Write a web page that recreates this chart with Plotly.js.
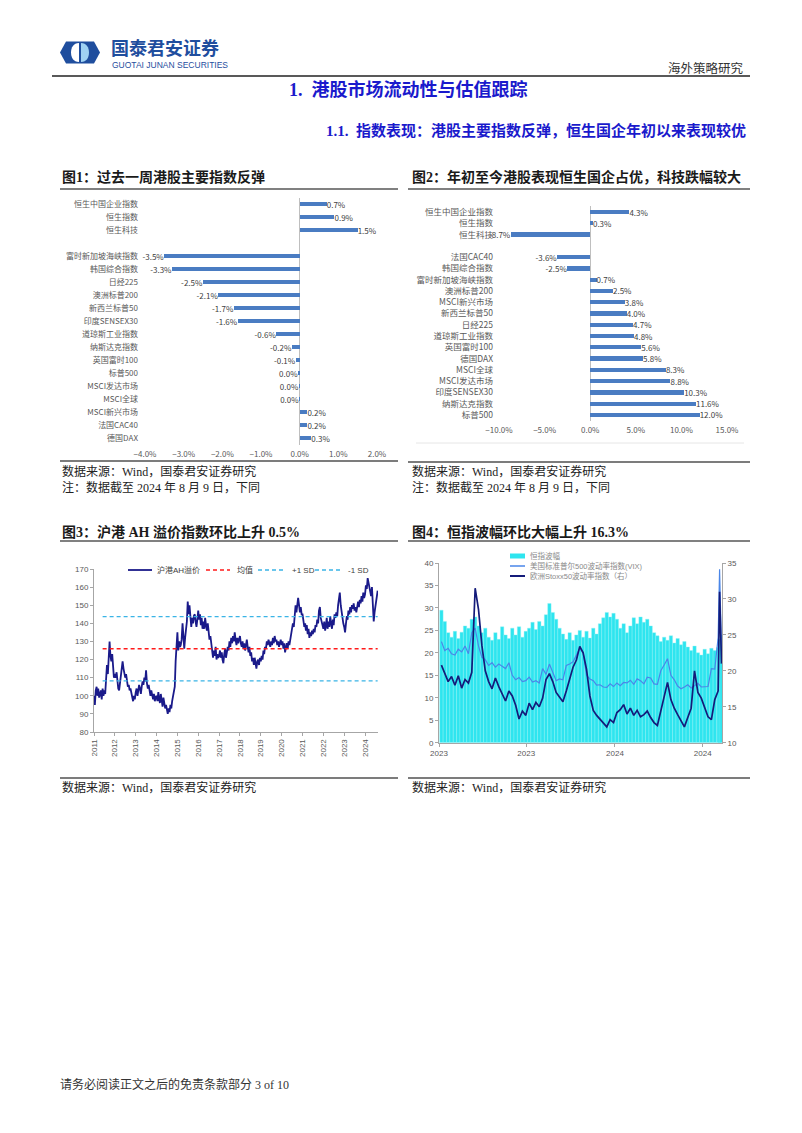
<!DOCTYPE html>
<html><head><meta charset="utf-8">
<script src="https://cdn.plot.ly/plotly-3.0.1.min.js"></script>
<style>html,body{margin:0;padding:0;background:#fff;}#page{width:802px;height:1133px;}</style>
</head><body><div id="page"></div>
<script>
// ---------- Chart 1: past week ----------
const c1Labels=['恒生中国企业指数','恒生指数','恒生科技',' ','富时新加坡海峡指数','韩国综合指数','日经225','澳洲标普200','新西兰标普50','印度SENSEX30','道琼斯工业指数','纳斯达克指数','英国富时100','标普500','MSCI发达市场','MSCI全球','MSCI新兴市场','法国CAC40','德国DAX'];
const c1Values=[0.7,0.9,1.5,null,-3.5,-3.3,-2.5,-2.1,-1.7,-1.6,-0.6,-0.2,-0.1,-0.04,-0.02,-0.01,0.2,0.2,0.3];

// ---------- Chart 2: year to date ----------
const c2Labels=['恒生中国企业指数','恒生指数','恒生科技',' ','法国CAC40','韩国综合指数','富时新加坡海峡指数','澳洲标普200','MSCI新兴市场','新西兰标普50','日经225','道琼斯工业指数','英国富时100','德国DAX','MSCI全球','MSCI发达市场','印度SENSEX30','纳斯达克指数','标普500'];
const c2Values=[4.3,0.3,-8.7,null,-3.6,-2.5,0.7,2.5,3.8,4.0,4.7,4.8,5.6,5.8,8.3,8.8,10.3,11.6,12.0];

// ---------- Chart 3: AH premium index ----------
const ahDates=[
'2011-01-01','2011-01-16','2011-02-01','2011-02-16','2011-03-01','2011-03-16','2011-04-01','2011-04-16','2011-05-01','2011-05-16','2011-06-01','2011-06-16','2011-07-01','2011-07-16','2011-08-01','2011-08-16','2011-09-01','2011-09-16','2011-10-01','2011-10-16','2011-11-01','2011-11-16','2011-12-01','2011-12-16',
'2012-01-01','2012-01-16','2012-02-01','2012-02-16','2012-03-01','2012-03-16','2012-04-01','2012-04-16','2012-05-01','2012-05-16','2012-06-01','2012-06-16','2012-07-01','2012-07-16','2012-08-01','2012-08-16','2012-09-01','2012-09-16','2012-10-01','2012-10-16','2012-11-01','2012-11-16','2012-12-01','2012-12-16',
'2013-01-01','2013-01-16','2013-02-01','2013-02-16','2013-03-01','2013-03-16','2013-04-01','2013-04-16','2013-05-01','2013-05-16','2013-06-01','2013-06-16','2013-07-01','2013-07-16','2013-08-01','2013-08-16','2013-09-01','2013-09-16','2013-10-01','2013-10-16','2013-11-01','2013-11-16','2013-12-01','2013-12-16',
'2014-01-01','2014-01-16','2014-02-01','2014-02-16','2014-03-01','2014-03-16','2014-04-01','2014-04-16','2014-05-01','2014-05-16','2014-06-01','2014-06-16','2014-07-01','2014-07-16','2014-08-01','2014-08-16','2014-09-01','2014-09-16','2014-10-01','2014-10-16','2014-11-01','2014-11-16','2014-12-01','2014-12-16',
'2015-01-01','2015-01-16','2015-02-01','2015-02-16','2015-03-01','2015-03-16','2015-04-01','2015-04-16','2015-05-01','2015-05-16','2015-06-01','2015-06-16','2015-07-01','2015-07-16','2015-08-01','2015-08-16','2015-09-01','2015-09-16','2015-10-01','2015-10-16','2015-11-01','2015-11-16','2015-12-01','2015-12-16',
'2016-01-01','2016-01-16','2016-02-01','2016-02-16','2016-03-01','2016-03-16','2016-04-01','2016-04-16','2016-05-01','2016-05-16','2016-06-01','2016-06-16','2016-07-01','2016-07-16','2016-08-01','2016-08-16','2016-09-01','2016-09-16','2016-10-01','2016-10-16','2016-11-01','2016-11-16','2016-12-01','2016-12-16',
'2017-01-01','2017-01-16','2017-02-01','2017-02-16','2017-03-01','2017-03-16','2017-04-01','2017-04-16','2017-05-01','2017-05-16','2017-06-01','2017-06-16','2017-07-01','2017-07-16','2017-08-01','2017-08-16','2017-09-01','2017-09-16','2017-10-01','2017-10-16','2017-11-01','2017-11-16','2017-12-01','2017-12-16',
'2018-01-01','2018-01-16','2018-02-01','2018-02-16','2018-03-01','2018-03-16','2018-04-01','2018-04-16','2018-05-01','2018-05-16','2018-06-01','2018-06-16','2018-07-01','2018-07-16','2018-08-01','2018-08-16','2018-09-01','2018-09-16','2018-10-01','2018-10-16','2018-11-01','2018-11-16','2018-12-01','2018-12-16',
'2019-01-01','2019-01-16','2019-02-01','2019-02-16','2019-03-01','2019-03-16','2019-04-01','2019-04-16','2019-05-01','2019-05-16','2019-06-01','2019-06-16','2019-07-01','2019-07-16','2019-08-01','2019-08-16','2019-09-01','2019-09-16','2019-10-01','2019-10-16','2019-11-01','2019-11-16','2019-12-01','2019-12-16',
'2020-01-01','2020-01-16','2020-02-01','2020-02-16','2020-03-01','2020-03-16','2020-04-01','2020-04-16','2020-05-01','2020-05-16','2020-06-01','2020-06-16','2020-07-01','2020-07-16','2020-08-01','2020-08-16','2020-09-01','2020-09-16','2020-10-01','2020-10-16','2020-11-01','2020-11-16','2020-12-01','2020-12-16',
'2021-01-01','2021-01-16','2021-02-01','2021-02-16','2021-03-01','2021-03-16','2021-04-01','2021-04-16','2021-05-01','2021-05-16','2021-06-01','2021-06-16','2021-07-01','2021-07-16','2021-08-01','2021-08-16','2021-09-01','2021-09-16','2021-10-01','2021-10-16','2021-11-01','2021-11-16','2021-12-01','2021-12-16',
'2022-01-01','2022-01-16','2022-02-01','2022-02-16','2022-03-01','2022-03-16','2022-04-01','2022-04-16','2022-05-01','2022-05-16','2022-06-01','2022-06-16','2022-07-01','2022-07-16','2022-08-01','2022-08-16','2022-09-01','2022-09-16','2022-10-01','2022-10-16','2022-11-01','2022-11-16','2022-12-01','2022-12-16',
'2023-01-01','2023-01-16','2023-02-01','2023-02-16','2023-03-01','2023-03-16','2023-04-01','2023-04-16','2023-05-01','2023-05-16','2023-06-01','2023-06-16','2023-07-01','2023-07-16','2023-08-01','2023-08-16','2023-09-01','2023-09-16','2023-10-01','2023-10-16','2023-11-01','2023-11-16','2023-12-01','2023-12-16',
'2024-01-01','2024-01-16','2024-02-01','2024-02-16','2024-03-01','2024-03-16','2024-04-01','2024-04-16','2024-05-01','2024-05-16','2024-06-01','2024-06-16','2024-07-01','2024-07-16','2024-08-01','2024-08-09'];
const ahValues=[
100,95,103,105,100,104,99,102,103,98,104,100,103,101,108,117,112,119,130,122,119,123,113,110,
112,110,113,108,104,103,107,110,114,119,115,113,110,112,108,105,106,103,104,101,99,97,100,98,
102,104,100,103,106,104,101,105,108,106,110,108,114,107,104,106,102,100,103,99,98,101,97,99,
100,97,102,98,96,101,97,94,99,96,93,95,92,90,93,91,95,93,97,100,102,105,119,128,
135,125,130,127,128,131,140,133,126,132,137,141,152,145,150,141,138,143,140,144,145,141,138,142,
147,142,145,139,143,137,141,137,143,139,136,140,135,131,133,128,124,121,125,122,127,120,123,121,
122,125,121,124,120,118,123,126,121,124,127,125,130,127,132,129,133,130,135,131,128,132,129,131,
133,129,127,130,126,129,125,128,131,127,124,127,122,124,119,121,117,121,118,115,119,120,117,121,
119,122,120,125,123,127,126,130,128,131,129,127,130,128,132,129,133,130,131,128,130,127,129,131,
128,130,126,129,124,127,129,126,130,128,131,133,135,140,138,144,150,146,149,154,150,146,149,145,
145,141,138,140,136,139,134,137,132,135,133,136,134,137,135,139,138,142,140,147,149,143,141,139,
137,141,136,139,143,137,141,138,144,140,137,142,139,145,143,146,144,150,153,157,150,146,143,140,
138,135,140,144,142,147,145,149,146,150,148,151,147,149,146,150,152,149,153,151,155,152,157,154,
156,161,159,165,162,160,157,155,160,150,141,146,150,153,155,158];
const ahMean=126, ahPlus1SD=143.7, ahMinus1SD=108.2;
const c3Names=['沪港AH溢价','均值','+1 SD','-1 SD'];

// ---------- Chart 4: volatility ----------
const volDates=['2023-01-06','2023-01-13','2023-01-20','2023-01-27','2023-02-03','2023-02-10','2023-02-17','2023-02-24','2023-03-03','2023-03-10','2023-03-17','2023-03-24','2023-03-31','2023-04-07','2023-04-14','2023-04-21','2023-04-28','2023-05-05','2023-05-12','2023-05-19','2023-05-26','2023-06-02','2023-06-09','2023-06-16','2023-06-23','2023-06-30','2023-07-07','2023-07-14','2023-07-21','2023-07-28','2023-08-04','2023-08-11','2023-08-18','2023-08-25','2023-09-01','2023-09-08','2023-09-15','2023-09-22','2023-09-29','2023-10-06','2023-10-13','2023-10-20','2023-10-27','2023-11-03','2023-11-10','2023-11-17','2023-11-24','2023-12-01','2023-12-08','2023-12-15','2023-12-22','2023-12-29','2024-01-05','2024-01-12','2024-01-19','2024-01-26','2024-02-02','2024-02-09','2024-02-16','2024-02-23','2024-03-01','2024-03-08','2024-03-15','2024-03-22','2024-03-29','2024-04-05','2024-04-12','2024-04-19','2024-04-26','2024-05-03','2024-05-10','2024-05-17','2024-05-24','2024-05-31','2024-06-07','2024-06-14','2024-06-21','2024-06-28','2024-07-05','2024-07-12','2024-07-19','2024-07-26','2024-08-02','2024-08-05','2024-08-09'];
const vhsi=[29.5,27,24.5,23.5,24.8,23.2,24.6,26,25.5,27.5,28,26,24.5,25.5,23.5,22.8,24.5,23,25.8,24,23.2,25.5,24,25.8,23.5,24.8,25.5,26.8,25.2,27,26,28.5,31,29,27.5,25.5,24.2,23,24.5,22.8,24,25,23.5,24.8,23.3,25.5,24.2,26.5,27.8,29,28,28.8,27.5,25.5,26.5,24.5,26,27.8,26.5,28,26.8,27.5,26,24.5,23.8,22.5,23.5,22.8,23.8,22.2,23.2,21.8,22.5,21.3,20.5,21.5,20,19.5,20.8,19.8,21,20.5,21.2,23,24];
const vix=[22.5,20.5,21,19.8,19.5,20.8,20.2,21.5,19.8,24.5,25.5,21.5,19,18.5,17.2,17.8,16.8,17.5,17,16.5,17.8,15,14,14.5,13.6,13.8,14.6,13.5,13.8,13.3,16.5,15.2,17.5,15.8,13.8,14.2,14,17.2,17.5,18,19.5,21,20,15,14.2,13.8,12.8,12.9,12.4,12.3,13.1,12.5,13.3,12.7,13.4,13.3,13.9,13,14.2,13.8,13.1,14.6,14.4,13.1,13,16,17.3,18.7,15,14,12.6,12,12.4,12.9,12.2,12.7,13.2,12.4,12.5,12.5,16.5,16.4,23.4,38.6,20.4];
const v2x=[20.8,19.5,18.5,19.2,18,19.3,17.6,18.8,18.3,19.8,31.5,28.5,23.5,20,18.5,17.5,19,17.8,16.8,15.8,17.2,16.5,15.2,13.3,14.4,13.8,15.5,14.6,15.6,15,16.2,18.8,19.6,18.5,17,16.4,15.7,17.2,19,20.5,21.5,23.4,22.5,20.2,16.5,14.5,13.8,13.3,12.8,12.2,13.2,12.8,14.2,14.6,15.3,14,14.8,13.8,14.5,13.6,13.9,14.4,13.5,12.8,12.4,14.5,16.5,18.4,16,14.8,13.9,13,12.2,13.5,14.8,20,17,16.2,15,13.6,13.2,16,17.2,31,21];
const c4Names=['恒指波幅','美国标准普尔500波动率指数(VIX)','欧洲Stoxx50波动率指数（右）'];
const c4Ticks=['2023-01-01','2023-07-01','2024-01-01','2024-07-01'];
const c4TickText=['2023','2023','2024','2024'];

// ---------- helpers ----------
const W=802,H=1133;
const X=p=>p/W, Y=p=>1-p/H;
const CJK='Noto Sans CJK SC';
const SERIF='Liberation Serif, Noto Sans CJK SC';
const SANS='Liberation Sans, Noto Sans CJK SC';
const fmt=v=>v==null?'':(Math.round(v*10)/10).toFixed(1)+'%';
const BAR='#4a7cc2', CYAN='#2ee5ef', VIXC='#4a86e8', V2XC='#141b7a', AHC='#1a1a8a', RED='#ff1a1a', SKY='#3ab4e6';

function txt(t,x,y,size,opt){opt=opt||{};
  return {text:t,x:X(x),y:Y(y),xref:'paper',yref:'paper',xanchor:opt.anchor||'left',yanchor:'middle',showarrow:false,
    font:{family:opt.family||CJK,size:size,color:opt.color||'#1a1a1a',weight:opt.weight||'normal'}};}
function hline(x0,x1,y,color,w,dash){return {type:'line',xref:'paper',yref:'paper',x0:X(x0),x1:X(x1),y0:Y(y),y1:Y(y),line:{color:color,width:w,dash:dash||'solid'}};}
function pth(s,fill){return {type:'path',xref:'paper',yref:'paper',path:s.replace(/(-?\d+\.?\d*),(-?\d+\.?\d*)/g,(m,a,b)=>X(+a)+','+Y(+b)),fillcolor:fill,line:{width:0}};}

const traces=[
 {type:'bar',orientation:'h',y:c1Labels,x:c1Values,xaxis:'x',yaxis:'y',marker:{color:BAR},width:0.38,
  text:c1Values.map(fmt),textposition:'outside',cliponaxis:false,constraintext:'none',textfont:{family:CJK,size:8,color:'#404040'},showlegend:false,hoverinfo:'skip'},
 {type:'bar',orientation:'h',y:c2Labels,x:c2Values,xaxis:'x2',yaxis:'y2',marker:{color:BAR},width:0.38,
  text:c2Values.map(fmt),textposition:'outside',cliponaxis:false,constraintext:'none',textfont:{family:CJK,size:8,color:'#404040'},showlegend:false,hoverinfo:'skip'},
 {type:'scatter',mode:'lines',x:ahDates,y:ahValues,xaxis:'x3',yaxis:'y3',name:c3Names[0],line:{color:AHC,width:1.8},showlegend:false},
 {type:'scatter',mode:'lines',x:[ahDates[10],ahDates[ahDates.length-1]],y:[ahMean,ahMean],xaxis:'x3',yaxis:'y3',name:c3Names[1],line:{color:RED,width:1.5,dash:'4px,3px'},showlegend:false},
 {type:'scatter',mode:'lines',x:[ahDates[10],ahDates[ahDates.length-1]],y:[ahPlus1SD,ahPlus1SD],xaxis:'x3',yaxis:'y3',name:c3Names[2],line:{color:SKY,width:1.3,dash:'4px,3px'},showlegend:false},
 {type:'scatter',mode:'lines',x:[ahDates[10],ahDates[ahDates.length-1]],y:[ahMinus1SD,ahMinus1SD],xaxis:'x3',yaxis:'y3',name:c3Names[3],line:{color:SKY,width:1.3,dash:'4px,3px'},showlegend:false},
 {type:'bar',x:volDates,y:vhsi,xaxis:'x4',yaxis:'y4',name:c4Names[0],marker:{color:CYAN,line:{width:0.4,color:'#8ff2f6'}},width:7*86400000,showlegend:false,hoverinfo:'skip'},
 {type:'scatter',mode:'lines',x:volDates,y:vix,xaxis:'x4',yaxis:'y4',name:c4Names[1],line:{color:VIXC,width:1.2},showlegend:false},
 {type:'scatter',mode:'lines',x:volDates,y:v2x,xaxis:'x4',yaxis:'y5',name:c4Names[2],line:{color:V2XC,width:1.7},showlegend:false}
];

const axFont={family:SANS,size:8,color:'#595959'};
const layout={
 width:W,height:H,margin:{l:0,r:0,t:0,b:0},paper_bgcolor:'#fff',plot_bgcolor:'rgba(0,0,0,0)',
 font:{family:CJK,size:9,color:'#595959'},hovermode:false,showlegend:false,
 xaxis:{domain:[X(145),X(377)],range:[-4,2],anchor:'y',dtick:1,tick0:0,tickformat:'.1f',ticksuffix:'%',showgrid:false,zeroline:true,zerolinecolor:'#bfbfbf',zerolinewidth:1,showline:false,ticks:'',ticklabelstandoff:3,tickfont:{family:CJK,size:8,color:'#595959'}},
 yaxis:{domain:[Y(444.5),Y(197.5)],type:'category',categoryorder:'array',categoryarray:c1Labels,autorange:'reversed',anchor:'x',showgrid:false,zeroline:false,showline:false,ticks:'',ticklabelstandoff:6,tickfont:{family:CJK,size:8,color:'#595959'}},
 xaxis2:{domain:[X(499),X(727)],range:[-10,15],anchor:'y2',dtick:5,tick0:0,tickformat:'.1f',ticksuffix:'%',showgrid:false,zeroline:true,zerolinecolor:'#bfbfbf',zerolinewidth:1,showline:false,ticks:'',ticklabelstandoff:3,tickfont:{family:CJK,size:8,color:'#595959'}},
 yaxis2:{domain:[Y(420.6),Y(206.4)],type:'category',categoryorder:'array',categoryarray:c2Labels,autorange:'reversed',anchor:'x2',showgrid:false,zeroline:false,showline:false,ticks:'',ticklabelstandoff:5,tickfont:{family:CJK,size:8.5,color:'#595959'}},
 xaxis3:{domain:[X(94),X(378)],type:'date',range:['2011-01-01','2024-08-15'],anchor:'y3',dtick:'M12',tick0:'2011-01-01',tickformat:'%Y',tickangle:-90,showgrid:false,zeroline:false,showline:true,linecolor:'#a6a6a6',ticks:'outside',ticklen:3,tickcolor:'#a6a6a6',tickfont:axFont},
 yaxis3:{domain:[Y(732),Y(569)],range:[80,170],dtick:10,anchor:'x3',showgrid:false,zeroline:false,showline:true,linecolor:'#a6a6a6',ticks:'outside',ticklen:3,tickcolor:'#a6a6a6',tickfont:axFont},
 xaxis4:{domain:[X(439),X(722)],type:'date',range:['2023-01-01','2024-08-10'],anchor:'y4',tickmode:'array',tickvals:c4Ticks,ticktext:c4TickText,showgrid:false,zeroline:false,showline:true,linecolor:'#a6a6a6',ticks:'outside',ticklen:3,tickcolor:'#a6a6a6',tickfont:axFont},
 yaxis4:{domain:[Y(742.7),Y(563)],range:[0,40],dtick:5,anchor:'x4',showgrid:false,zeroline:false,showline:true,linecolor:'#a6a6a6',ticks:'outside',ticklen:3,tickcolor:'#a6a6a6',tickfont:axFont},
 yaxis5:{overlaying:'y4',side:'right',anchor:'x4',range:[10,35],dtick:5,showgrid:false,zeroline:false,showline:true,linecolor:'#a6a6a6',ticks:'outside',ticklen:3,tickcolor:'#a6a6a6',tickfont:axFont},
 bargap:0,
 shapes:[
  // logo
  pth('M60,52.5 L66,41.5 L94,41.5 L100,52.5 L94,63.5 L66,63.5 Z','#1f4e9e'),
  pth('M79,43 C73.5,43 71,47.5 71,52.5 C71,57.5 73.5,62 79,62 Z','#ffffff'),
  pth('M81,43 C86.5,43 89,47.5 89,52.5 C89,57.5 86.5,62 81,62 Z','#9fd2f3'),
  hline(52,750,76,'#595959',2),
  hline(60,398,189,'#808080',2), hline(408,750,189,'#808080',2),
  hline(416,744,443,'#e6e6e6',1),
  hline(60,398,461,'#505050',1.5), hline(408,750,462,'#505050',1.5),
  hline(60,398,541,'#808080',2), hline(408,750,541,'#808080',2),
  hline(60,398,778,'#505050',1.5), hline(408,750,778,'#505050',1.5),
  // chart 3 legend keys
  hline(128,152,570,AHC,1.8), hline(206,230,570,RED,1.5,'4px,3px'),
  hline(258,286,570,SKY,1.3,'4px,3px'), hline(315,342,570,SKY,1.3,'4px,3px'),
  // chart 4 legend keys
  {type:'rect',xref:'paper',yref:'paper',x0:X(510),x1:X(525),y0:Y(558.5),y1:Y(553.5),fillcolor:CYAN,line:{width:0}},
  hline(510,525,566,VIXC,1.5), hline(510,525,576,V2XC,2)
 ],
 annotations:[
  txt('国泰君安证券',109,47,18,{color:'#1f4e9e',weight:'bold'}),
  txt('GUOTAI JUNAN SECURITIES',110,64.5,8.5,{family:'Liberation Sans',color:'#1f4e9e'}),
  txt('海外策略研究',746,68,12.5,{anchor:'right',color:'#333333'}),
  txt('1.  港股市场流动性与估值跟踪',287,90,18,{family:SERIF,color:'#1a1acc',weight:'bold'}),
  txt('1.1.  指数表现：港股主要指数反弹，恒生国企年初以来表现较优',748,131,15,{anchor:'right',family:SERIF,color:'#1a1acc',weight:'bold'}),
  txt('图1：过去一周港股主要指数反弹',60,177,14,{family:SERIF,weight:'bold'}),
  txt('图2：年初至今港股表现恒生国企占优，科技跌幅较大',410,177,14,{family:SERIF,weight:'bold'}),
  txt('数据来源：Wind，国泰君安证券研究',60,471,12,{family:SERIF,color:'#222222'}),
  txt('注：数据截至 2024 年 8 月 9 日，下同',60,487,12,{family:SERIF,color:'#222222'}),
  txt('数据来源：Wind，国泰君安证券研究',410,471,12,{family:SERIF,color:'#222222'}),
  txt('注：数据截至 2024 年 8 月 9 日，下同',410,487,12,{family:SERIF,color:'#222222'}),
  txt('图3：沪港 AH 溢价指数环比上升 0.5%',60,532,14,{family:SERIF,weight:'bold'}),
  txt('图4：恒指波幅环比大幅上升 16.3%',410,532,14,{family:SERIF,weight:'bold'}),
  txt('数据来源：Wind，国泰君安证券研究',60,787,12,{family:SERIF,color:'#222222'}),
  txt('数据来源：Wind，国泰君安证券研究',410,787,12,{family:SERIF,color:'#222222'}),
  txt('请务必阅读正文之后的免责条款部分 3 of 10',58,1084,12,{family:SERIF,color:'#333333'}),
  txt(c3Names[0],155,570,8,{family:SANS,color:'#404040'}),
  txt(c3Names[1],235,570,8,{family:SANS,color:'#404040'}),
  txt(c3Names[2],290,570,8,{family:SANS,color:'#404040'}),
  txt(c3Names[3],346,570,8,{family:SANS,color:'#404040'}),
  txt(c4Names[0],528,556,7.5,{family:SANS,color:'#8a8a8a'}),
  txt(c4Names[1],528,566,7.5,{family:SANS,color:'#8a8a8a'}),
  txt(c4Names[2],528,576,7.5,{family:SANS,color:'#8a8a8a'})
 ]
};
Plotly.newPlot('page',traces,layout,{displayModeBar:false,staticPlot:true});
</script></body></html>
